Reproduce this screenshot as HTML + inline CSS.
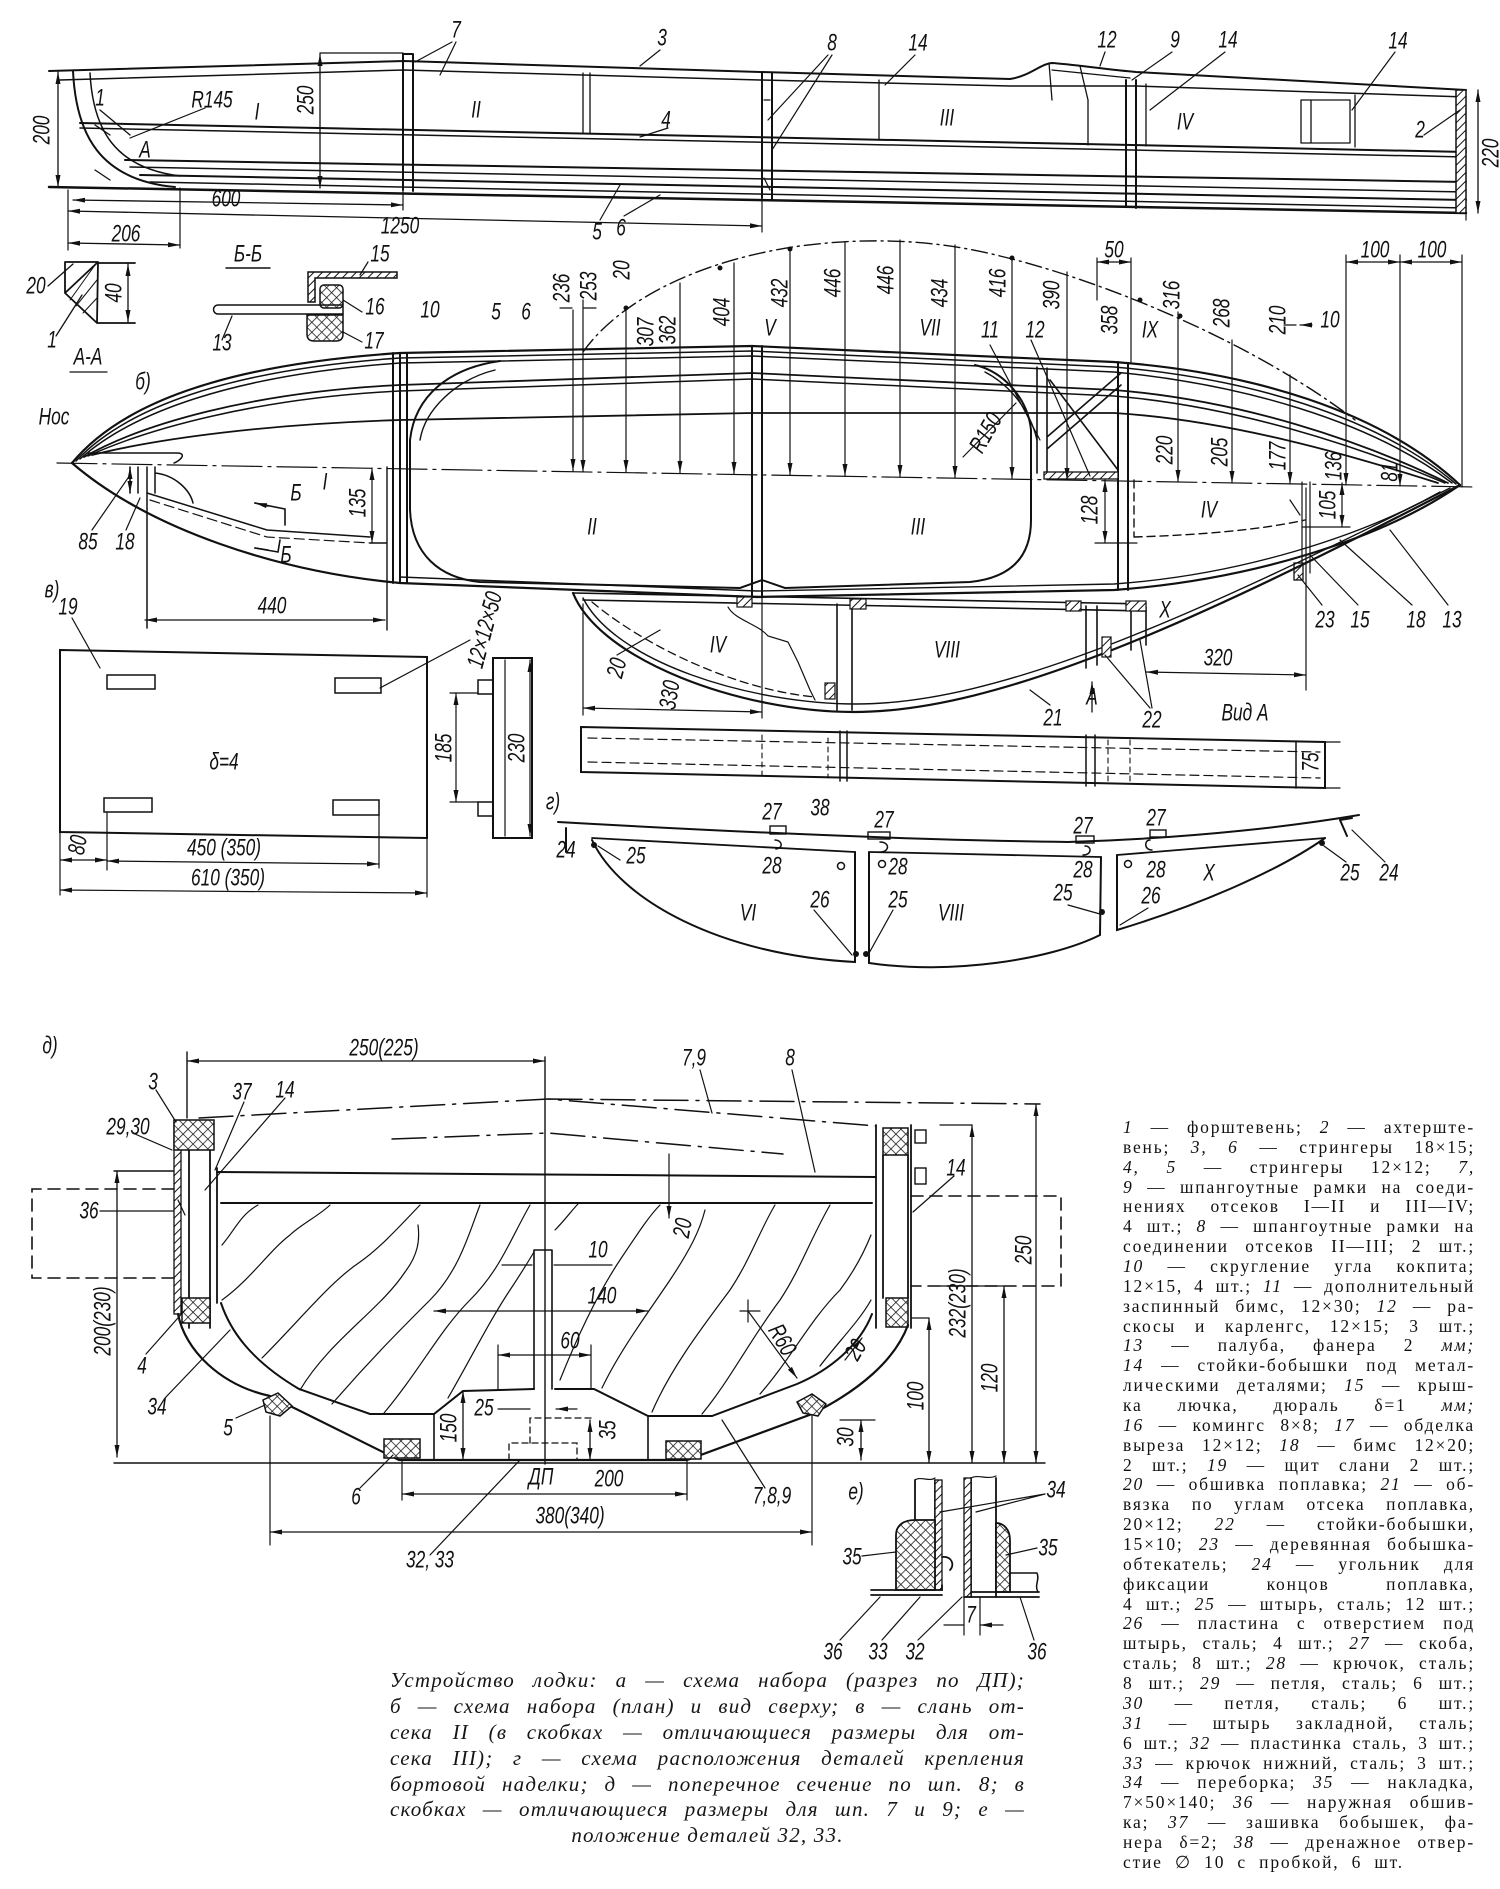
<!DOCTYPE html>
<html><head><meta charset="utf-8">
<style>
html,body{margin:0;padding:0;background:#fff;}
#w{position:relative;width:1500px;height:1889px;overflow:hidden;background:#fff;}
svg{position:absolute;left:0;top:0;}
.t{font-family:"Liberation Sans",sans-serif;font-style:italic;font-size:24px;text-anchor:middle;dominant-baseline:central;fill:#111;stroke:none;}
.leg{position:absolute;left:1123px;top:1118px;width:352px;font-family:"Liberation Serif","DejaVu Serif",serif;font-size:17.5px;line-height:19.86px;color:#111;letter-spacing:1.8px;}
.leg div{height:19.86px;text-align:justify;text-align-last:justify;}
.leg div.last{text-align-last:left;word-spacing:6px;}
.cap{position:absolute;left:390px;top:1668px;width:635px;font-family:"Liberation Serif","DejaVu Serif",serif;font-style:italic;font-size:21px;line-height:25.9px;color:#161616;letter-spacing:1.2px;}
.cap div{height:25.9px;text-align:justify;text-align-last:justify;}
.cap div.c{text-align:center;text-align-last:center;}
</style></head><body><div id="w">
<svg width="1500" height="1889" viewBox="0 0 1500 1889" xmlns="http://www.w3.org/2000/svg">
<defs>
<marker id="a" viewBox="0 0 12 6" refX="12" refY="3" markerWidth="12" markerHeight="6" markerUnits="userSpaceOnUse" orient="auto-start-reverse"><path d="M0,0.5L12,3L0,5.5z" fill="#111"/></marker>
<pattern id="h" width="6" height="6" patternUnits="userSpaceOnUse" patternTransform="rotate(45)"><rect width="6" height="6" fill="#fff"/><line x1="0" y1="0" x2="0" y2="6" stroke="#111" stroke-width="2"/></pattern>
<pattern id="x" width="7" height="7" patternUnits="userSpaceOnUse" patternTransform="rotate(45)"><rect width="7" height="7" fill="#fff"/><path d="M0,0V7M0,0H7" stroke="#111" stroke-width="1.5"/></pattern>
</defs>

<g stroke="#111" fill="none" stroke-width="2" stroke-linecap="round">
<!-- ===== Section a (profile) ===== -->
<path d="M49,71 L404,61 L760,72 L1010,79 C1030,76 1040,64 1052,63 C1070,64 1110,70 1136,72 L1466,90"/>
<path d="M60,80 L404,70 L760,80 L1010,86 L1136,86 L1466,97" stroke-width="1.5"/>
<path d="M80,123 L1466,152"/><path d="M80,128 L1466,157" stroke-width="1.5"/>
<path d="M125,160 L1466,182"/><path d="M130,167 L1466,192" stroke-width="1.5"/>
<path d="M140,175 L1466,200"/><path d="M150,182 L1466,208" stroke-width="1.5"/>
<path d="M49,187 L1466,213" stroke-width="2.5"/>
<path d="M73,71 C76,135 100,180 175,187"/><path d="M90,73 C93,130 115,168 180,176" stroke-width="1.5"/>
<path d="M403,54 V190 M413,54 V191 M403,54 H413"/>
<path d="M762,73 V198 M772,73 V199"/><path d="M764,100 L770,100 M764,178 L770,190" stroke-width="1.2"/>
<path d="M1126,80 V207 M1136,80 V208"/>
<rect x="1456" y="90" width="10" height="123" fill="url(#h)" stroke-width="1.5"/>
<path d="M583,73 V133 M590,73 V133 M879,80 V140 M1088,100 V145 M1146,84 V146 M1301,100 V143 M1311,100 V143 M1350,100 V143 M1301,100 H1350 M1301,143 H1350 M1355,95 V147" stroke-width="1.3"/>
<path d="M1049,63 L1052,100 M1080,66 L1088,100 M1052,70 L1130,78" stroke-width="1.3"/>
<path d="M320,53 H403" stroke-width="1.3"/>
<g stroke-width="1.3" marker-start="url(#a)" marker-end="url(#a)">
<line x1="58" y1="72" x2="58" y2="187"/>
<line x1="320" y1="54" x2="320" y2="188"/>
<line x1="1478" y1="90" x2="1478" y2="213"/>
<line x1="73" y1="200" x2="403" y2="205"/>
<line x1="68" y1="211" x2="762" y2="226"/>
<line x1="68" y1="243" x2="180" y2="245"/>
</g>
<path d="M68,190 V250 M180,188 V248 M403,190 V210 M762,199 V232 M1466,213 V220" stroke-width="1.2"/>
<path d="M100,110 L130,135 M95,125 L110,135 M95,170 L110,180" stroke-width="1.3"/>
<!-- leaders a -->
<path d="M205,108 L130,138 M660,50 L640,66 M452,42 L415,62 M456,42 L440,75 M828,55 L768,120 M832,55 L772,150 M915,55 L885,85 M1105,52 L1100,66 M1172,52 L1132,80 M1225,52 L1150,110 M1395,52 L1352,110 M1424,135 L1460,110 M668,128 L640,137 M600,220 L620,185 M624,216 L660,195" stroke-width="1.2"/>

<!-- ===== A-A ===== -->
<path d="M65,262 H98 M65,262 V293 L97,323 M98,262 L97,323 M98,262 L65,293 M97,323 H135 M98,263 H135" stroke-width="1.8"/>
<path d="M70,300 L95,265 M76,306 L97,280 M83,313 L97,298" stroke-width="1"/>
<line x1="128" y1="264" x2="128" y2="322" stroke-width="1.3" marker-start="url(#a)" marker-end="url(#a)"/>
<path d="M48,286 L73,264 M56,336 L82,295 M70,372 H107" stroke-width="1.3"/>
<!-- ===== Б-Б ===== -->
<path d="M226,268 H270" stroke-width="1.5"/>
<path d="M308,272 H397 V278 H315 V302 H308 Z" fill="url(#h)" stroke-width="1.5"/>
<rect x="320" y="285" width="23" height="23" rx="4" fill="url(#x)" stroke-width="1.5"/>
<path d="M218,305 H343 V314 H218 A4.5,4.5 0 0 1 218,305 Z" stroke-width="1.5"/>
<path d="M307,315 H343 V334 Q343,341 336,341 H314 Q307,341 307,334 Z" fill="url(#x)" stroke-width="1.5"/>
<path d="M368,262 L360,275 M362,312 L343,300 M362,342 L343,332 M222,340 L232,316" stroke-width="1.2"/>

<!-- ===== Plan view b ===== -->
<path d="M57,463 L1475,487" stroke-width="1.2" stroke-dasharray="40,6,3,6"/>
<path d="M72,463 C120,405 220,365 400,353 L752,346 L1114,362 C1250,372 1380,410 1460,485" stroke-width="2.2"/>
<path d="M76,461 C125,409 225,370 400,358 L752,351 L1114,367 C1245,378 1375,415 1456,484" stroke-width="1.5"/>
<path d="M80,459 C130,414 230,375 400,363 L752,356 L1114,372 C1240,384 1370,420 1452,483" stroke-width="1.5"/>
<path d="M84,457 C140,425 250,392 400,385 L752,373 L1114,390 C1240,400 1360,440 1448,483" stroke-width="1.8"/>
<path d="M88,456 C145,430 255,398 400,391 L752,379 L1114,396 C1235,406 1355,445 1445,483" stroke-width="1.5"/>
<path d="M92,455 C160,438 270,424 400,420 L752,413 L1114,413 C1230,420 1350,455 1438,483" stroke-width="1.8"/>
<path d="M87,453 L178,453 C188,454 178,462 174,463" stroke-width="1.5"/>
<path d="M72,463 C150,530 280,572 400,583 L757,597 L1114,590 C1250,580 1380,540 1460,485" stroke-width="2.2"/>
<path d="M400,577 L757,591 L1114,584 C1240,575 1360,537 1440,492" stroke-width="1.4"/>
<!-- cockpit -->
<path d="M500,361 C450,368 415,395 410,440 L410,510 C412,555 440,578 480,582 L740,588 L762,580 L785,588 L970,582 C1010,578 1031,558 1031,520 L1031,430 C1028,400 1005,372 975,365" stroke-width="2"/>
<path d="M495,370 C455,380 425,410 420,440" stroke-width="1.4"/>
<path d="M985,372 C1010,385 1030,410 1037,440" stroke-width="1.4"/>
<!-- frames -->
<path d="M393,353 V583 M400,353 V583 M407,353 V583"/>
<path d="M752,346 V597 M762,346 V597"/>
<path d="M1118,362 V590 M1128,363 V590"/>
<!-- 11/12 -->
<path d="M1037,367 V473 M1047,368 V473 M1047,437 L1121,373 M1047,449 L1121,385 M1050,380 L1118,470" stroke-width="1.6"/>
<rect x="1044" y="472" width="74" height="7" fill="url(#h)" stroke-width="1.3"/>
<path d="M1031,340 L1090,476 M990,345 L1040,440 M963,457 L1016,403" stroke-width="1.2"/>
<!-- arc -->
<path d="M583,352 C620,300 700,260 800,246 C860,238 930,238 1000,256 C1100,280 1250,340 1355,420" stroke-width="1.4" stroke-dasharray="16,5,2,5"/>
<g fill="#111" stroke="none"><circle cx="626" cy="308" r="2.5"/><circle cx="720" cy="268" r="2.5"/><circle cx="790" cy="249" r="2.5"/><circle cx="1012" cy="258" r="2.5"/><circle cx="1140" cy="300" r="2.5"/><circle cx="1180" cy="316" r="2.5"/></g>
<!-- vertical dims -->
<g stroke-width="1.2" marker-end="url(#a)">
<line x1="573" y1="310" x2="573" y2="471"/>
<line x1="583" y1="300" x2="583" y2="472"/>
<line x1="626" y1="308" x2="626" y2="472"/>
<line x1="680" y1="283" x2="680" y2="473"/>
<line x1="734" y1="263" x2="734" y2="474"/>
<line x1="790" y1="249" x2="790" y2="475"/>
<line x1="845" y1="242" x2="845" y2="476"/>
<line x1="900" y1="240" x2="900" y2="477"/>
<line x1="955" y1="245" x2="955" y2="478"/>
<line x1="1012" y1="257" x2="1012" y2="479"/>
<line x1="1067" y1="272" x2="1067" y2="480"/>
<line x1="1178" y1="312" x2="1178" y2="482"/>
<line x1="1232" y1="340" x2="1232" y2="483"/>
<line x1="1290" y1="375" x2="1290" y2="484"/>
<line x1="1346" y1="255" x2="1346" y2="485"/>
<line x1="1400" y1="255" x2="1400" y2="486"/>
</g>
<path d="M1462,255 V487 M1097,258 V300 M1131,258 V362 M1302,482 V573 M1310,482 V573" stroke-width="1.2"/>
<g stroke-width="1.2" marker-start="url(#a)" marker-end="url(#a)">
<line x1="1346" y1="262" x2="1400" y2="262"/><line x1="1400" y1="262" x2="1462" y2="262"/>
<line x1="1097" y1="262" x2="1131" y2="262"/>
<line x1="372" y1="468" x2="372" y2="543"/>
<line x1="145" y1="620" x2="385" y2="620"/>
<line x1="1342" y1="483" x2="1342" y2="527"/>
<line x1="1105" y1="480" x2="1105" y2="543"/>
<line x1="130" y1="467" x2="130" y2="493"/>
</g>
<path d="M560,308 L572,308 M596,308 L584,308 M1284,325 L1296,325 M1312,325 L1300,325" stroke-width="1.2" marker-end="url(#a)"/>
<!-- nose lower structure -->
<path d="M130,467 V493 M138,467 V493 M147,467 V628 M155,467 V493 M155,473 C175,475 190,490 193,503" stroke-width="1.5"/>
<path d="M147,493 L267,530 L370,537" stroke-width="1.5"/>
<path d="M150,500 L267,537 L370,543" stroke-width="1.2" stroke-dasharray="10,5"/>
<path d="M370,543 H387 M387,467 V543 M387,543 V630" stroke-width="1.4"/>
<path d="M255,503 L285,509 L285,525 M280,540 L278,552 L255,548 M285,509 L255,503" stroke-width="1.6"/>
<path d="M255,503 L268,506 M255,548 L268,550" stroke-width="1.6" marker-start="url(#a)"/>
<path d="M92,530 L128,478 M126,530 L140,498" stroke-width="1.2"/>
<!-- stern lower structure -->
<path d="M1134,480 V537 M1134,537 C1200,535 1260,530 1305,520" stroke-width="1.4" stroke-dasharray="8,5"/>
<path d="M1095,543 H1137 M1302,527 H1350" stroke-width="1.2"/>
<rect x="1294" y="563" width="9" height="17" fill="url(#h)" stroke-width="1.3"/>
<path d="M1322,605 L1298,575 M1358,605 L1310,555 M1412,605 L1340,540 M1448,605 L1390,530 M1290,500 L1300,515" stroke-width="1.2"/>
<!-- float -->
<path d="M573,593 C600,660 740,712 854,712 C1000,712 1200,620 1460,485" stroke-width="2.2"/>
<path d="M583,598 C615,662 750,704 856,704 C1000,704 1190,618 1450,488" stroke-width="1.4"/>
<path d="M573,593 L1146,604 M583,600 L1146,611" stroke-width="1.6"/>
<path d="M592,602 C650,650 740,690 815,697" stroke-width="1.3" stroke-dasharray="8,5"/>
<path d="M728,607 C735,620 758,624 768,636 L788,642 L798,662 L810,690 L815,700" stroke-width="1.2"/>
<path d="M837,604 V710 M852,604 V710 M1086,606 V668 M1097,606 V665 M1131,607 V650 M1146,607 V645" stroke-width="1.6"/>
<g fill="url(#h)" stroke-width="1.2"><rect x="737" y="597" width="15" height="10"/><rect x="850" y="599" width="16" height="10"/><rect x="1066" y="601" width="15" height="10"/><rect x="1126" y="601" width="20" height="10"/><rect x="825" y="683" width="10" height="16"/><rect x="1102" y="637" width="9" height="20"/></g>
<path d="M583,604 V715 M762,597 V718 M1306,488 V690" stroke-width="1.2"/>
<g stroke-width="1.2" marker-start="url(#a)" marker-end="url(#a)">
<line x1="583" y1="708" x2="762" y2="712"/>
<line x1="1146" y1="672" x2="1306" y2="675"/>
</g>
<line x1="1092" y1="712" x2="1092" y2="682" stroke-width="1.3" marker-end="url(#a)"/>
<path d="M617,655 L660,630 M1050,705 L1030,690 M1150,708 L1105,655 M1152,708 L1140,640" stroke-width="1.2"/>
<!-- Vid A -->
<path d="M581,727 L1325,742 L1325,788 L581,772 Z" stroke-width="2"/>
<path d="M588,738 L1320,752 M588,762 L1320,778" stroke-width="1.2" stroke-dasharray="9,5"/>
<path d="M840,731 V781 M847,731 V781 M1086,735 V786 M1095,735 V786 M1296,741 V788" stroke-width="1.5"/>
<path d="M762,735 V776 M828,738 V778 M1108,740 V784 M1130,740 V784" stroke-width="1.1" stroke-dasharray="5,4"/>
<path d="M1325,742 H1340 M1325,788 H1340" stroke-width="1.2"/>
<!-- ===== Section v ===== -->
<path d="M60,650 L427,657 L427,838 L60,832 Z" stroke-width="2"/>
<path d="M60,832 V895 M427,838 V897 M107,813 V870 M379,815 V868" stroke-width="1.2"/>
<g stroke-width="1.5"><rect x="107" y="675" width="48" height="14"/><rect x="335" y="678" width="46" height="15"/><rect x="104" y="798" width="48" height="14"/><rect x="333" y="800" width="46" height="15"/></g>
<g stroke-width="1.2" marker-start="url(#a)" marker-end="url(#a)">
<line x1="60" y1="860" x2="107" y2="860"/>
<line x1="107" y1="861" x2="379" y2="864"/>
<line x1="60" y1="890" x2="427" y2="893"/>
<line x1="456" y1="693" x2="456" y2="802"/>
<line x1="530" y1="660" x2="530" y2="836"/>
</g>
<rect x="493" y="658" width="39" height="180" stroke-width="2"/>
<path d="M505,660 V836" stroke-width="1.2"/>
<g stroke-width="1.5"><rect x="478" y="680" width="15" height="14"/><rect x="478" y="802" width="15" height="14"/></g>
<path d="M450,693 H478 M450,802 H478" stroke-width="1.2"/>
<path d="M72,618 L100,668 M470,640 L380,688" stroke-width="1.2"/>
<!-- ===== Section g ===== -->
<path d="M558,822 C700,830 900,840 1068,842 C1200,838 1300,825 1359,815" stroke-width="2"/>
<path d="M592,838 L855,852 M870,852 L1101,857 M1117,855 L1325,838" stroke-width="1.8"/>
<path d="M592,840 C620,900 720,955 855,962 L855,852" stroke-width="2"/>
<path d="M869,852 L869,963 C950,975 1050,960 1100,935 L1101,857" stroke-width="2"/>
<path d="M1117,855 L1117,930 C1200,905 1280,870 1325,838" stroke-width="2"/>
<path d="M566,828 V852 M1340,820 L1347,836 M1340,820 L1352,818" stroke-width="2"/>
<g stroke-width="1.4"><rect x="770" y="826" width="16" height="8"/><rect x="868" y="832" width="22" height="7"/><rect x="1076" y="836" width="18" height="7"/><rect x="1150" y="830" width="16" height="7"/></g>
<path d="M775,840 C782,840 784,848 776,849 M880,842 C890,842 890,852 880,852 M1085,846 C1092,846 1092,855 1083,855 M1150,840 C1144,840 1144,850 1152,850" stroke-width="1.5"/>
<g stroke-width="1.5"><circle cx="841" cy="866" r="3.5"/><circle cx="882" cy="864" r="3.5"/><circle cx="1128" cy="864" r="3.5"/></g>
<g fill="#111" stroke="none"><circle cx="594" cy="845" r="3"/><circle cx="1322" cy="843" r="3"/><circle cx="856" cy="954" r="3"/><circle cx="866" cy="954" r="3"/><circle cx="1102" cy="912" r="3"/></g>
<path d="M620,860 L598,846 M814,910 L852,955 M893,910 L868,955 M1068,905 L1100,914 M1148,908 L1120,925 M1346,862 L1324,846 M1385,862 L1352,830" stroke-width="1.2"/>

<!-- ===== Section d ===== -->
<g stroke-width="1.3" marker-start="url(#a)" marker-end="url(#a)">
<line x1="187" y1="1061" x2="545" y2="1061"/>
<line x1="117" y1="1171" x2="117" y2="1457"/>
<line x1="929" y1="1318" x2="929" y2="1463"/>
<line x1="972" y1="1125" x2="972" y2="1463"/>
<line x1="1004" y1="1286" x2="1004" y2="1463"/>
<line x1="1036" y1="1104" x2="1036" y2="1463"/>
<line x1="402" y1="1494" x2="687" y2="1494"/>
<line x1="270" y1="1532" x2="812" y2="1532"/>
<line x1="463" y1="1391" x2="463" y2="1460"/>
<line x1="590" y1="1420" x2="590" y2="1460"/>
<line x1="861" y1="1420" x2="861" y2="1460"/>
<line x1="434" y1="1311" x2="648" y2="1311"/>
<line x1="498" y1="1355" x2="591" y2="1355"/>
</g>
<path d="M187,1052 V1118 M545,1057 V1464 M114,1463 H1045 M114,1171 H175" stroke-width="1.4"/>
<path d="M199,1118 L548,1099 L876,1126 M548,1099 L1040,1104" stroke-width="1.5" stroke-dasharray="34,8,3,8"/>
<path d="M392,1139 L548,1133 L783,1154" stroke-width="1.5" stroke-dasharray="34,8,3,8"/>
<path d="M217,1172 L876,1177" stroke-width="2"/>
<path d="M221,1203 H872" stroke-width="2"/>
<!-- left side -->
<rect x="174" y="1121" width="7" height="193" fill="url(#h)" stroke-width="1.3"/>
<path d="M189,1150 V1328 M210,1150 V1328 M217,1168 V1303" stroke-width="1.8"/>
<rect x="174" y="1120" width="40" height="30" fill="url(#x)" stroke-width="1.5"/>
<rect x="182" y="1298" width="28" height="25" fill="url(#x)" stroke-width="1.5"/>
<!-- right side -->
<path d="M876,1125 V1328 M911,1125 V1328 M883,1155 V1298 M908,1155 V1298" stroke-width="1.8"/>
<rect x="883" y="1128" width="25" height="27" fill="url(#x)" stroke-width="1.5"/>
<rect x="886" y="1298" width="22" height="29" fill="url(#x)" stroke-width="1.5"/>
<rect x="915" y="1130" width="11" height="13" stroke-width="1.4"/><rect x="915" y="1168" width="11" height="16" stroke-width="1.4"/>
<path d="M178,1200 L185,1215" stroke-width="1.2"/>
<!-- dashed boxes -->
<path d="M174,1189 H32 V1278 H174" stroke-width="1.6" stroke-dasharray="12,7"/>
<path d="M911,1196 H1061 V1286 H911" stroke-width="1.6" stroke-dasharray="12,7"/>
<!-- hull/frame -->
<path d="M178,1314 C185,1350 220,1385 270,1396 L399,1460 L687,1460 L812,1414 C860,1390 895,1360 908,1325" stroke-width="2.2"/>
<path d="M221,1303 C230,1330 250,1360 299,1389 L370,1414 L434,1414 L463,1391 L534,1389 M555,1389 L594,1389 L648,1416 L712,1416 L797,1384 C830,1370 860,1345 872,1314" stroke-width="2"/>
<path d="M434,1414 V1460 M648,1416 V1460" stroke-width="1.6"/>
<path d="M534,1250 V1389 M552,1250 V1389 M534,1250 H552" stroke-width="1.6"/>
<path d="M509,1460 V1443 H577 V1460 M530,1443 V1418 H591" stroke-width="1.3" stroke-dasharray="6,4"/>
<g fill="url(#x)" stroke-width="1.5">
<rect x="384" y="1439" width="36" height="19"/><rect x="666" y="1441" width="35" height="18"/>
<path d="M263,1400 L278,1393 L292,1406 L280,1416 L266,1412 Z"/><path d="M797,1402 L812,1394 L826,1404 L818,1416 L803,1413 Z"/>
</g>
<path d="M270,1416 V1545 M812,1416 V1545 M402,1460 V1500 M687,1460 V1500 M498,1345 V1389 M591,1345 V1389 M840,1420 H875 M929,1318 H911 M1004,1286 H940 M972,1125 H940" stroke-width="1.2"/>
<!-- grain -->
<g stroke-width="1.2">
<path d="M222,1245 C235,1230 240,1215 258,1205"/>
<path d="M222,1300 C250,1280 270,1250 290,1235 C300,1225 320,1215 330,1205"/>
<path d="M262,1358 C300,1320 330,1282 360,1262 C380,1248 400,1226 420,1205"/>
<path d="M300,1390 C330,1340 380,1310 405,1272 C418,1255 420,1240 418,1225"/>
<path d="M332,1404 C370,1360 400,1330 430,1300 C460,1270 470,1230 480,1205"/>
<path d="M384,1413 C420,1370 440,1330 470,1300 C500,1270 510,1240 530,1205"/>
<path d="M448,1398 C470,1360 490,1320 510,1290 C522,1272 528,1262 534,1252"/>
<path d="M560,1380 C580,1330 600,1290 620,1260 C640,1230 650,1215 660,1205"/>
<path d="M602,1388 C620,1350 650,1310 670,1280 C690,1250 700,1230 705,1210"/>
<path d="M652,1412 C670,1370 700,1330 730,1290 C750,1260 760,1230 775,1205"/>
<path d="M702,1414 C730,1380 750,1340 780,1300 C800,1270 810,1240 830,1205"/>
<path d="M760,1394 C790,1360 810,1320 840,1290 C855,1270 865,1250 871,1235"/>
<path d="M820,1366 C840,1340 860,1320 871,1300"/>
<path d="M555,1230 C565,1220 572,1210 578,1204"/>
</g>
<!-- small dims d -->
<line x1="669" y1="1154" x2="669" y2="1218" stroke-width="1.2" marker-end="url(#a)"/>
<path d="M502,1265 L532,1265 M612,1265 L554,1265 M498,1409 L530,1409 M577,1409 L556,1409" stroke-width="1.2" marker-end="url(#a)"/>
<path d="M740,1311 H760 M748,1300 V1322 M748,1311 L797,1378" stroke-width="1.2" marker-end="url(#a)"/>
<path d="M845,1360 L862,1338" stroke-width="1.2" marker-end="url(#a)"/>
<!-- leaders d -->
<path d="M156,1090 L176,1122 M244,1102 L215,1170 M285,1098 L205,1190 M135,1134 L172,1150 M100,1211 H174 M954,1176 L913,1212 M146,1354 L185,1310 M165,1398 L230,1330 M236,1418 L265,1405 M360,1488 L393,1455 M430,1555 L520,1460 M765,1488 L722,1420 M700,1070 L712,1113 M792,1070 L815,1172" stroke-width="1.2"/>
<!-- ===== Section e ===== -->
<path d="M915,1480 V1590 M935,1480 V1590" stroke-width="1.8"/>
<rect x="935" y="1480" width="7" height="110" fill="url(#h)" stroke-width="1.3"/>
<path d="M896,1590 V1535 C896,1525 904,1520 915,1520 H935 V1590 Z" fill="url(#x)" stroke-width="1.8"/>
<path d="M871,1590 H942 V1585 M871,1595 H942" stroke-width="1.8"/>
<path d="M942,1557 C952,1556 955,1565 950,1570" stroke-width="1.8"/>
<path d="M971,1478 V1597 M996,1478 V1597" stroke-width="1.8"/>
<rect x="964" y="1478" width="7" height="119" fill="url(#h)" stroke-width="1.3"/>
<path d="M996,1523 C1004,1523 1010,1530 1010,1540 V1592 H996 Z" fill="url(#x)" stroke-width="1.8"/>
<path d="M971,1592 H1039 M964,1597 H1039" stroke-width="1.8"/>
<path d="M1010,1573 H1037 M1037,1573 C1040,1580 1034,1585 1038,1592" stroke-width="1.5"/>
<path d="M964,1597 V1635 M980,1597 V1635" stroke-width="1.2"/>
<path d="M944,1625 L964,1625 M1003,1625 L980,1625" stroke-width="1.2" marker-end="url(#a)"/>
<path d="M915,1480 C920,1476 930,1482 935,1478 M971,1478 C978,1474 988,1480 996,1476" stroke-width="1.2"/>
<path d="M1045,1494 L940,1512 M1045,1494 L976,1512 M862,1556 L896,1552 M1037,1548 L1006,1555 M840,1640 L880,1597 M882,1640 L920,1597 M918,1640 L962,1597 M1034,1640 L1020,1597" stroke-width="1.2"/>
</g>

<!-- ===== Labels ===== -->
<g class="t">
<!-- a -->
<text class="t" transform="translate(42 130) rotate(-90) scale(.72 1)">200</text>
<text class="t" transform="translate(100 98) scale(.72 1)">1</text>
<text class="t" transform="translate(212 100) scale(.72 1)">R145</text>
<text class="t" transform="translate(257 112) scale(.72 1)">I</text>
<text class="t" transform="translate(306 100) rotate(-90) scale(.72 1)">250</text>
<text class="t" transform="translate(476 110) scale(.72 1)">II</text>
<text class="t" transform="translate(662 38) scale(.72 1)">3</text>
<text class="t" transform="translate(456 30) scale(.72 1)">7</text>
<text class="t" transform="translate(832 43) scale(.72 1)">8</text>
<text class="t" transform="translate(918 43) scale(.72 1)">14</text>
<text class="t" transform="translate(947 118) scale(.72 1)">III</text>
<text class="t" transform="translate(1107 40) scale(.72 1)">12</text>
<text class="t" transform="translate(1175 40) scale(.72 1)">9</text>
<text class="t" transform="translate(1228 40) scale(.72 1)">14</text>
<text class="t" transform="translate(1185 122) scale(.72 1)">IV</text>
<text class="t" transform="translate(1398 41) scale(.72 1)">14</text>
<text class="t" transform="translate(1420 130) scale(.72 1)">2</text>
<text class="t" transform="translate(1491 153) rotate(-90) scale(.72 1)">220</text>
<text class="t" transform="translate(666 120) scale(.72 1)">4</text>
<text class="t" transform="translate(145 150) scale(.72 1)">A</text>
<text class="t" transform="translate(226 199) scale(.72 1)">600</text>
<text class="t" transform="translate(400 226) scale(.72 1)">1250</text>
<text class="t" transform="translate(126 234) scale(.72 1)">206</text>
<text class="t" transform="translate(597 232) scale(.72 1)">5</text>
<text class="t" transform="translate(621 228) scale(.72 1)">6</text>
<!-- A-A, B-B -->
<text class="t" transform="translate(36 286) scale(.72 1)">20</text>
<text class="t" transform="translate(114 293) rotate(-90) scale(.72 1)">40</text>
<text class="t" transform="translate(52 340) scale(.72 1)">1</text>
<text class="t" transform="translate(88 357) scale(.72 1)">A-A</text>
<text class="t" transform="translate(248 254) scale(.72 1)">Б-Б</text>
<text class="t" transform="translate(380 254) scale(.72 1)">15</text>
<text class="t" transform="translate(375 307) scale(.72 1)">16</text>
<text class="t" transform="translate(374 341) scale(.72 1)">17</text>
<text class="t" transform="translate(222 343) scale(.72 1)">13</text>
<!-- plan -->
<text class="t" transform="translate(54 417) scale(.72 1)">Нос</text>
<text class="t" transform="translate(143 382) scale(.72 1)">б)</text>
<text class="t" transform="translate(430 310) scale(.72 1)">10</text>
<text class="t" transform="translate(496 312) scale(.72 1)">5</text>
<text class="t" transform="translate(526 312) scale(.72 1)">6</text>
<text class="t" transform="translate(562 288) rotate(-90) scale(.72 1)">236</text>
<text class="t" transform="translate(589 286) rotate(-90) scale(.72 1)">253</text>
<text class="t" transform="translate(622 270) rotate(-90) scale(.72 1)">20</text>
<text class="t" transform="translate(646 332) rotate(-90) scale(.72 1)">307</text>
<text class="t" transform="translate(668 330) rotate(-90) scale(.72 1)">362</text>
<text class="t" transform="translate(722 312) rotate(-90) scale(.72 1)">404</text>
<text class="t" transform="translate(780 293) rotate(-90) scale(.72 1)">432</text>
<text class="t" transform="translate(770 328) scale(.72 1)">V</text>
<text class="t" transform="translate(833 283) rotate(-90) scale(.72 1)">446</text>
<text class="t" transform="translate(886 280) rotate(-90) scale(.72 1)">446</text>
<text class="t" transform="translate(940 293) rotate(-90) scale(.72 1)">434</text>
<text class="t" transform="translate(930 328) scale(.72 1)">VII</text>
<text class="t" transform="translate(998 283) rotate(-90) scale(.72 1)">416</text>
<text class="t" transform="translate(990 330) scale(.72 1)">11</text>
<text class="t" transform="translate(1035 330) scale(.72 1)">12</text>
<text class="t" transform="translate(1052 295) rotate(-90) scale(.72 1)">390</text>
<text class="t" transform="translate(1110 320) rotate(-90) scale(.72 1)">358</text>
<text class="t" transform="translate(1114 250) scale(.72 1)">50</text>
<text class="t" transform="translate(1150 330) scale(.72 1)">IX</text>
<text class="t" transform="translate(1172 295) rotate(-90) scale(.72 1)">316</text>
<text class="t" transform="translate(1222 313) rotate(-90) scale(.72 1)">268</text>
<text class="t" transform="translate(1278 320) rotate(-90) scale(.72 1)">210</text>
<text class="t" transform="translate(1330 320) scale(.72 1)">10</text>
<text class="t" transform="translate(1375 250) scale(.72 1)">100</text>
<text class="t" transform="translate(1432 250) scale(.72 1)">100</text>
<text class="t" transform="translate(986 433) rotate(-60) scale(.72 1)">R150</text>
<text class="t" transform="translate(1165 450) rotate(-90) scale(.72 1)">220</text>
<text class="t" transform="translate(1220 452) rotate(-90) scale(.72 1)">205</text>
<text class="t" transform="translate(1278 456) rotate(-90) scale(.72 1)">177</text>
<text class="t" transform="translate(1334 466) rotate(-90) scale(.72 1)">136</text>
<text class="t" transform="translate(1390 472) rotate(-90) scale(.72 1)">81</text>
<text class="t" transform="translate(1090 510) rotate(-90) scale(.72 1)">128</text>
<text class="t" transform="translate(1328 505) rotate(-90) scale(.72 1)">105</text>
<text class="t" transform="translate(358 503) rotate(-90) scale(.72 1)">135</text>
<text class="t" transform="translate(325 482) scale(.72 1)">I</text>
<text class="t" transform="translate(592 527) scale(.72 1)">II</text>
<text class="t" transform="translate(918 527) scale(.72 1)">III</text>
<text class="t" transform="translate(1209 510) scale(.72 1)">IV</text>
<text class="t" transform="translate(88 542) scale(.72 1)">85</text>
<text class="t" transform="translate(125 542) scale(.72 1)">18</text>
<text class="t" transform="translate(296 493) scale(.72 1)">Б</text>
<text class="t" transform="translate(286 555) scale(.72 1)">Б</text>
<text class="t" transform="translate(272 606) scale(.72 1)">440</text>
<text class="t" transform="translate(1325 620) scale(.72 1)">23</text>
<text class="t" transform="translate(1360 620) scale(.72 1)">15</text>
<text class="t" transform="translate(1416 620) scale(.72 1)">18</text>
<text class="t" transform="translate(1452 620) scale(.72 1)">13</text>
<text class="t" transform="translate(617 668) rotate(-75) scale(.72 1)">20</text>
<text class="t" transform="translate(718 645) scale(.72 1)">IV</text>
<text class="t" transform="translate(947 650) scale(.72 1)">VIII</text>
<text class="t" transform="translate(670 695) rotate(-80) scale(.72 1)">330</text>
<text class="t" transform="translate(1053 718) scale(.72 1)">21</text>
<text class="t" transform="translate(1092 697) scale(.72 1)">A</text>
<text class="t" transform="translate(1152 720) scale(.72 1)">22</text>
<text class="t" transform="translate(1218 658) scale(.72 1)">320</text>
<text class="t" transform="translate(1245 713) scale(.72 1)">Вид А</text>
<text class="t" transform="translate(1165 610) scale(.72 1)">X</text>
<text class="t" transform="translate(1311 762) rotate(-90) scale(.72 1)">75</text>
<!-- v -->
<text class="t" transform="translate(52 590) scale(.72 1)">в)</text>
<text class="t" transform="translate(68 607) scale(.72 1)">19</text>
<text class="t" transform="translate(485 630) rotate(-75) scale(.72 1)">12×12×50</text>
<text class="t" transform="translate(224 762) scale(.72 1)">δ=4</text>
<text class="t" transform="translate(78 845) rotate(-80) scale(.72 1)">80</text>
<text class="t" transform="translate(224 848) scale(.72 1)">450 (350)</text>
<text class="t" transform="translate(228 878) scale(.72 1)">610 (350)</text>
<text class="t" transform="translate(444 748) rotate(-90) scale(.72 1)">185</text>
<text class="t" transform="translate(517 748) rotate(-90) scale(.72 1)">230</text>
<!-- g -->
<text class="t" transform="translate(553 802) scale(.72 1)">г)</text>
<text class="t" transform="translate(566 850) scale(.72 1)">24</text>
<text class="t" transform="translate(636 856) scale(.72 1)">25</text>
<text class="t" transform="translate(772 812) scale(.72 1)">27</text>
<text class="t" transform="translate(820 808) scale(.72 1)">38</text>
<text class="t" transform="translate(772 866) scale(.72 1)">28</text>
<text class="t" transform="translate(884 820) scale(.72 1)">27</text>
<text class="t" transform="translate(898 867) scale(.72 1)">28</text>
<text class="t" transform="translate(748 913) scale(.72 1)">VI</text>
<text class="t" transform="translate(820 900) scale(.72 1)">26</text>
<text class="t" transform="translate(898 900) scale(.72 1)">25</text>
<text class="t" transform="translate(951 913) scale(.72 1)">VIII</text>
<text class="t" transform="translate(1083 826) scale(.72 1)">27</text>
<text class="t" transform="translate(1083 870) scale(.72 1)">28</text>
<text class="t" transform="translate(1063 893) scale(.72 1)">25</text>
<text class="t" transform="translate(1151 896) scale(.72 1)">26</text>
<text class="t" transform="translate(1156 818) scale(.72 1)">27</text>
<text class="t" transform="translate(1156 870) scale(.72 1)">28</text>
<text class="t" transform="translate(1209 873) scale(.72 1)">X</text>
<text class="t" transform="translate(1350 873) scale(.72 1)">25</text>
<text class="t" transform="translate(1389 873) scale(.72 1)">24</text>
<!-- d -->
<text class="t" transform="translate(50 1046) scale(.72 1)">д)</text>
<text class="t" transform="translate(384 1048) scale(.72 1)">250(225)</text>
<text class="t" transform="translate(694 1058) scale(.72 1)">7,9</text>
<text class="t" transform="translate(790 1058) scale(.72 1)">8</text>
<text class="t" transform="translate(153 1082) scale(.72 1)">3</text>
<text class="t" transform="translate(242 1092) scale(.72 1)">37</text>
<text class="t" transform="translate(285 1090) scale(.72 1)">14</text>
<text class="t" transform="translate(128 1127) scale(.72 1)">29,30</text>
<text class="t" transform="translate(89 1211) scale(.72 1)">36</text>
<text class="t" transform="translate(956 1168) scale(.72 1)">14</text>
<text class="t" transform="translate(142 1366) scale(.72 1)">4</text>
<text class="t" transform="translate(157 1407) scale(.72 1)">34</text>
<text class="t" transform="translate(228 1428) scale(.72 1)">5</text>
<text class="t" transform="translate(356 1497) scale(.72 1)">6</text>
<text class="t" transform="translate(430 1560) scale(.72 1)">32, 33</text>
<text class="t" transform="translate(541 1477) scale(.72 1)">ДП</text>
<text class="t" transform="translate(609 1479) scale(.72 1)">200</text>
<text class="t" transform="translate(570 1516) scale(.72 1)">380(340)</text>
<text class="t" transform="translate(772 1496) scale(.72 1)">7,8,9</text>
<text class="t" transform="translate(846 1437) rotate(-90) scale(.72 1)">30</text>
<text class="t" transform="translate(103 1321) rotate(-90) scale(.72 1)">200(230)</text>
<text class="t" transform="translate(916 1396) rotate(-90) scale(.72 1)">100</text>
<text class="t" transform="translate(958 1303) rotate(-90) scale(.72 1)">232(230)</text>
<text class="t" transform="translate(990 1378) rotate(-90) scale(.72 1)">120</text>
<text class="t" transform="translate(1024 1250) rotate(-90) scale(.72 1)">250</text>
<text class="t" transform="translate(449 1428) rotate(-90) scale(.72 1)">150</text>
<text class="t" transform="translate(608 1430) rotate(-90) scale(.72 1)">35</text>
<text class="t" transform="translate(484 1408) scale(.72 1)">25</text>
<text class="t" transform="translate(570 1341) scale(.72 1)">60</text>
<text class="t" transform="translate(602 1296) scale(.72 1)">140</text>
<text class="t" transform="translate(598 1250) scale(.72 1)">10</text>
<text class="t" transform="translate(683 1228) rotate(-80) scale(.72 1)">20</text>
<text class="t" transform="translate(782 1340) rotate(60) scale(.72 1)">R60</text>
<text class="t" transform="translate(856 1350) rotate(-60) scale(.72 1)">20</text>
<!-- e -->
<text class="t" transform="translate(856 1492) scale(.72 1)">е)</text>
<text class="t" transform="translate(1056 1490) scale(.72 1)">34</text>
<text class="t" transform="translate(852 1557) scale(.72 1)">35</text>
<text class="t" transform="translate(1048 1548) scale(.72 1)">35</text>
<text class="t" transform="translate(833 1652) scale(.72 1)">36</text>
<text class="t" transform="translate(878 1652) scale(.72 1)">33</text>
<text class="t" transform="translate(915 1652) scale(.72 1)">32</text>
<text class="t" transform="translate(1037 1652) scale(.72 1)">36</text>
<text class="t" transform="translate(971 1615) scale(.72 1)">7</text>
</g>
</svg>

<div class="leg">
<div><i>1</i> — форштевень; <i>2</i> — ахтерште-</div>
<div>вень; <i>3, 6</i> — стрингеры 18×15;</div>
<div><i>4, 5</i> — стрингеры 12×12; <i>7,</i></div>
<div><i>9</i> — шпангоутные рамки на соеди-</div>
<div>нениях отсеков I—II и III—IV;</div>
<div>4 шт.; <i>8</i> — шпангоутные рамки на</div>
<div>соединении отсеков II—III; 2 шт.;</div>
<div><i>10</i> — скругление угла кокпита;</div>
<div>12×15, 4 шт.; <i>11</i> — дополнительный</div>
<div>заспинный бимс, 12×30; <i>12</i> — ра-</div>
<div>скосы и карленгс, 12×15; 3 шт.;</div>
<div><i>13</i> — палуба, фанера 2 <i>мм;</i></div>
<div><i>14</i> — стойки-бобышки под метал-</div>
<div>лическими деталями; <i>15</i> — крыш-</div>
<div>ка лючка, дюраль δ=1 <i>мм;</i></div>
<div><i>16</i> — комингс 8×8; <i>17</i> — обделка</div>
<div>выреза 12×12; <i>18</i> — бимс 12×20;</div>
<div>2 шт.; <i>19</i> — щит слани 2 шт.;</div>
<div><i>20</i> — обшивка поплавка; <i>21</i> — об-</div>
<div>вязка по углам отсека поплавка,</div>
<div>20×12; <i>22</i> — стойки-бобышки,</div>
<div>15×10; <i>23</i> — деревянная бобышка-</div>
<div>обтекатель; <i>24</i> — угольник для</div>
<div>фиксации концов поплавка,</div>
<div>4 шт.; <i>25</i> — штырь, сталь; 12 шт.;</div>
<div><i>26</i> — пластина с отверстием под</div>
<div>штырь, сталь; 4 шт.; <i>27</i> — скоба,</div>
<div>сталь; 8 шт.; <i>28</i> — крючок, сталь;</div>
<div>8 шт.; <i>29</i> — петля, сталь; 6 шт.;</div>
<div><i>30</i> — петля, сталь; 6 шт.;</div>
<div><i>31</i> — штырь закладной, сталь;</div>
<div>6 шт.; <i>32</i> — пластинка сталь, 3 шт.;</div>
<div><i>33</i> — крючок нижний, сталь; 3 шт.;</div>
<div><i>34</i> — переборка; <i>35</i> — накладка,</div>
<div>7×50×140; <i>36</i> — наружная обшив-</div>
<div>ка; <i>37</i> — зашивка бобышек, фа-</div>
<div>нера δ=2; <i>38</i> — дренажное отвер-</div>
<div class="last">стие ∅ 10 с пробкой, 6 шт.</div>
</div>

<div class="cap">
<div>Устройство лодки: а — схема набора (разрез по ДП);</div>
<div>б — схема набора (план) и вид сверху; в — слань от-</div>
<div>сека II (в скобках — отличающиеся размеры для от-</div>
<div>сека III); г — схема расположения деталей крепления</div>
<div>бортовой наделки; д — поперечное сечение по шп. 8; в</div>
<div>скобках — отличающиеся размеры для шп. 7 и 9; е —</div>
<div class="c">положение деталей 32, 33.</div>
</div>
</div></body></html>
